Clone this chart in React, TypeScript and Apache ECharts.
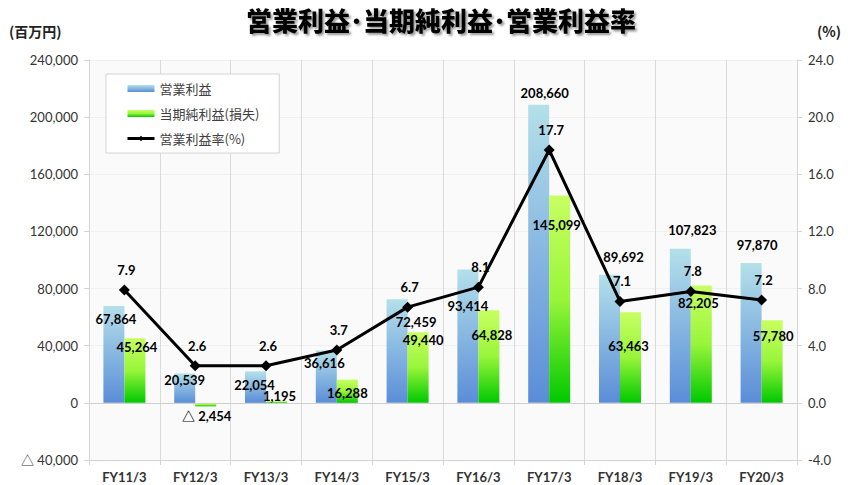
import React, { useEffect, useRef } from "react";
import * as echarts from "echarts";

const categories = ["FY11/3", "FY12/3", "FY13/3", "FY14/3", "FY15/3", "FY16/3", "FY17/3", "FY18/3", "FY19/3", "FY20/3"];
const operatingIncome = [67864, 20539, 22054, 36616, 72459, 93414, 208660, 89692, 107823, 97870];
const netIncome = [45264, -2454, 1195, 16288, 49440, 64828, 145099, 63463, 82205, 57780];
const operatingMargin = [7.9, 2.6, 2.6, 3.7, 6.7, 8.1, 17.7, 7.1, 7.8, 7.2];

const leftAxis = { min: -40000, max: 240000, interval: 40000 };
const rightAxis = { min: -4, max: 24, interval: 4 };

// label placement tweaks (style only)
const opLabelOffsets = [[2, 25], [0, 18], [-1, 25], [-2, 24], [19, 34], [0, 48], [6, 0], [14, -6], [12, -7], [6, -7]];
const netLabelOffsets = [[2, 20], [1, -2], [3, 6], [0, 25], [5, 19], [3, 36], [-3, 41], [-2, 45], [-3, 29], [1, 27]];

const FONT = 'Lato, "Noto Sans CJK JP", sans-serif';
const CJK = '"Noto Sans CJK JP", sans-serif';

const fmt = (v: number) =>
  v < 0 ? "△ " + Math.abs(v).toLocaleString("en-US") : v.toLocaleString("en-US");

export default function App() {
  const ref = useRef<HTMLDivElement>(null);
  useEffect(() => {
    if (!ref.current) return;
    const chart = echarts.init(ref.current, null, { renderer: "svg" });
    const blue = new echarts.graphic.LinearGradient(0, 0, 0, 1, [
      { offset: 0, color: "#b4e0ea" },
      { offset: 1, color: "#5a8dd8" },
    ]);
    const green = new echarts.graphic.LinearGradient(0, 0, 0, 1, [
      { offset: 0, color: "#c8ff62" },
      { offset: 0.5, color: "#98f53a" },
      { offset: 1, color: "#00c800" },
    ]);
    const dataLabel = {
      show: true,
      fontFamily: FONT,
      fontSize: 13,
      fontWeight: "bold" as const,
      color: "#000",
      formatter: (p: any) => fmt(p.value),
    };
    chart.setOption({
      animation: false,
      backgroundColor: "#ffffff",
      textStyle: { fontFamily: FONT },
      graphic: [
        {
          type: "text",
          x: 441,
          y: 19,
          style: {
            text: "営業利益･当期純利益･営業利益率",
            fontFamily: CJK,
            fontSize: 26,
            fontWeight: 900,
            fill: "#000",
            align: "center",
            verticalAlign: "middle",
            textShadowColor: "rgba(0,0,0,0.4)",
            textShadowOffsetX: 2,
            textShadowOffsetY: 2,
            textShadowBlur: 2,
          },
        },
        {
          type: "text",
          x: 9,
          y: 31,
          style: { text: "(百万円)", fontFamily: CJK, fontSize: 14, fontWeight: "bold", fill: "#222", verticalAlign: "middle" },
        },
        {
          type: "text",
          x: 817,
          y: 31,
          style: { text: "(%)", fontFamily: CJK, fontSize: 14, fontWeight: "bold", fill: "#222", verticalAlign: "middle" },
        },
      ],
      grid: {
        left: 89,
        right: 55,
        top: 60,
        bottom: 25,
        show: true,
        backgroundColor: "#fafafa",
        borderWidth: 0,
      },
      legend: {
        orient: "vertical",
        left: 106,
        top: 74,
        padding: [8, 20, 8, 20],
        itemGap: 12,
        itemWidth: 27,
        itemHeight: 7,
        backgroundColor: "#ffffff",
        borderColor: "#d4d4d4",
        borderWidth: 1,
        textStyle: { fontFamily: CJK, fontSize: 13, color: "#404040" },
        data: [
          { name: "営業利益", icon: "rect" },
          { name: "当期純利益(損失)", icon: "rect" },
          { name: "営業利益率(%)", lineStyle: { width: 3 } },
        ],
      },
      xAxis: {
        type: "category",
        data: categories,
        axisLine: { onZero: false, lineStyle: { color: "#d4d4d4" } },
        axisTick: { show: true, length: 5, lineStyle: { color: "#d4d4d4" } },
        splitLine: { show: true, lineStyle: { color: "#dadada" } },
        axisLabel: { fontFamily: FONT, fontSize: 13, fontWeight: "bold", color: "#333", margin: 10 },
      },
      yAxis: [
        {
          type: "value",
          ...leftAxis,
          axisLine: { show: true, lineStyle: { color: "#d4d4d4" } },
          axisTick: { show: true, length: 5, lineStyle: { color: "#d4d4d4" } },
          splitLine: { show: true, lineStyle: { color: "#f0f0f0" } },
          axisLabel: { fontFamily: FONT, fontSize: 13, color: "#333", margin: 11, formatter: (v: number) => fmt(v) },
        },
        {
          type: "value",
          ...rightAxis,
          axisLine: { show: true, lineStyle: { color: "#d4d4d4" } },
          axisTick: { show: true, length: 5, lineStyle: { color: "#d4d4d4" } },
          splitLine: { show: false },
          axisLabel: { fontFamily: FONT, fontSize: 13, color: "#333", margin: 11, formatter: (v: number) => v.toFixed(1) },
        },
      ],
      series: [
        {
          name: "営業利益",
          type: "bar",
          barWidth: 21,
          barGap: "0%",
          itemStyle: { color: blue },
          label: dataLabel,
          data: operatingIncome.map((v, i) => ({
            value: v,
            label: { position: "top", offset: opLabelOffsets[i] },
          })),
          markLine: {
            silent: true,
            symbol: "none",
            label: { show: false },
            lineStyle: { color: "#cfcfcf", type: "solid", width: 1 },
            data: [{ yAxis: 0 }],
          },
        },
        {
          name: "当期純利益(損失)",
          type: "bar",
          barWidth: 21,
          barGap: "0%",
          itemStyle: { color: green },
          label: dataLabel,
          data: netIncome.map((v, i) => ({
            value: v,
            label: { position: v < 0 ? "bottom" : "top", offset: netLabelOffsets[i] },
          })),
        },
        {
          name: "営業利益率(%)",
          type: "line",
          yAxisIndex: 1,
          z: 5,
          symbol: "diamond",
          symbolSize: 11,
          lineStyle: { color: "#000", width: 3 },
          itemStyle: { color: "#000" },
          label: {
            show: true,
            position: "top",
            distance: 8,
            offset: [2, 0],
            fontFamily: FONT,
            fontSize: 13,
            fontWeight: "bold",
            color: "#000",
            formatter: (p: any) => p.value.toFixed(1),
          },
          data: operatingMargin,
        },
      ],
    });
    return () => chart.dispose();
  }, []);
  return <div ref={ref} style={{ position: "fixed", left: 0, top: 0, width: 852, height: 485 }} />;
}
